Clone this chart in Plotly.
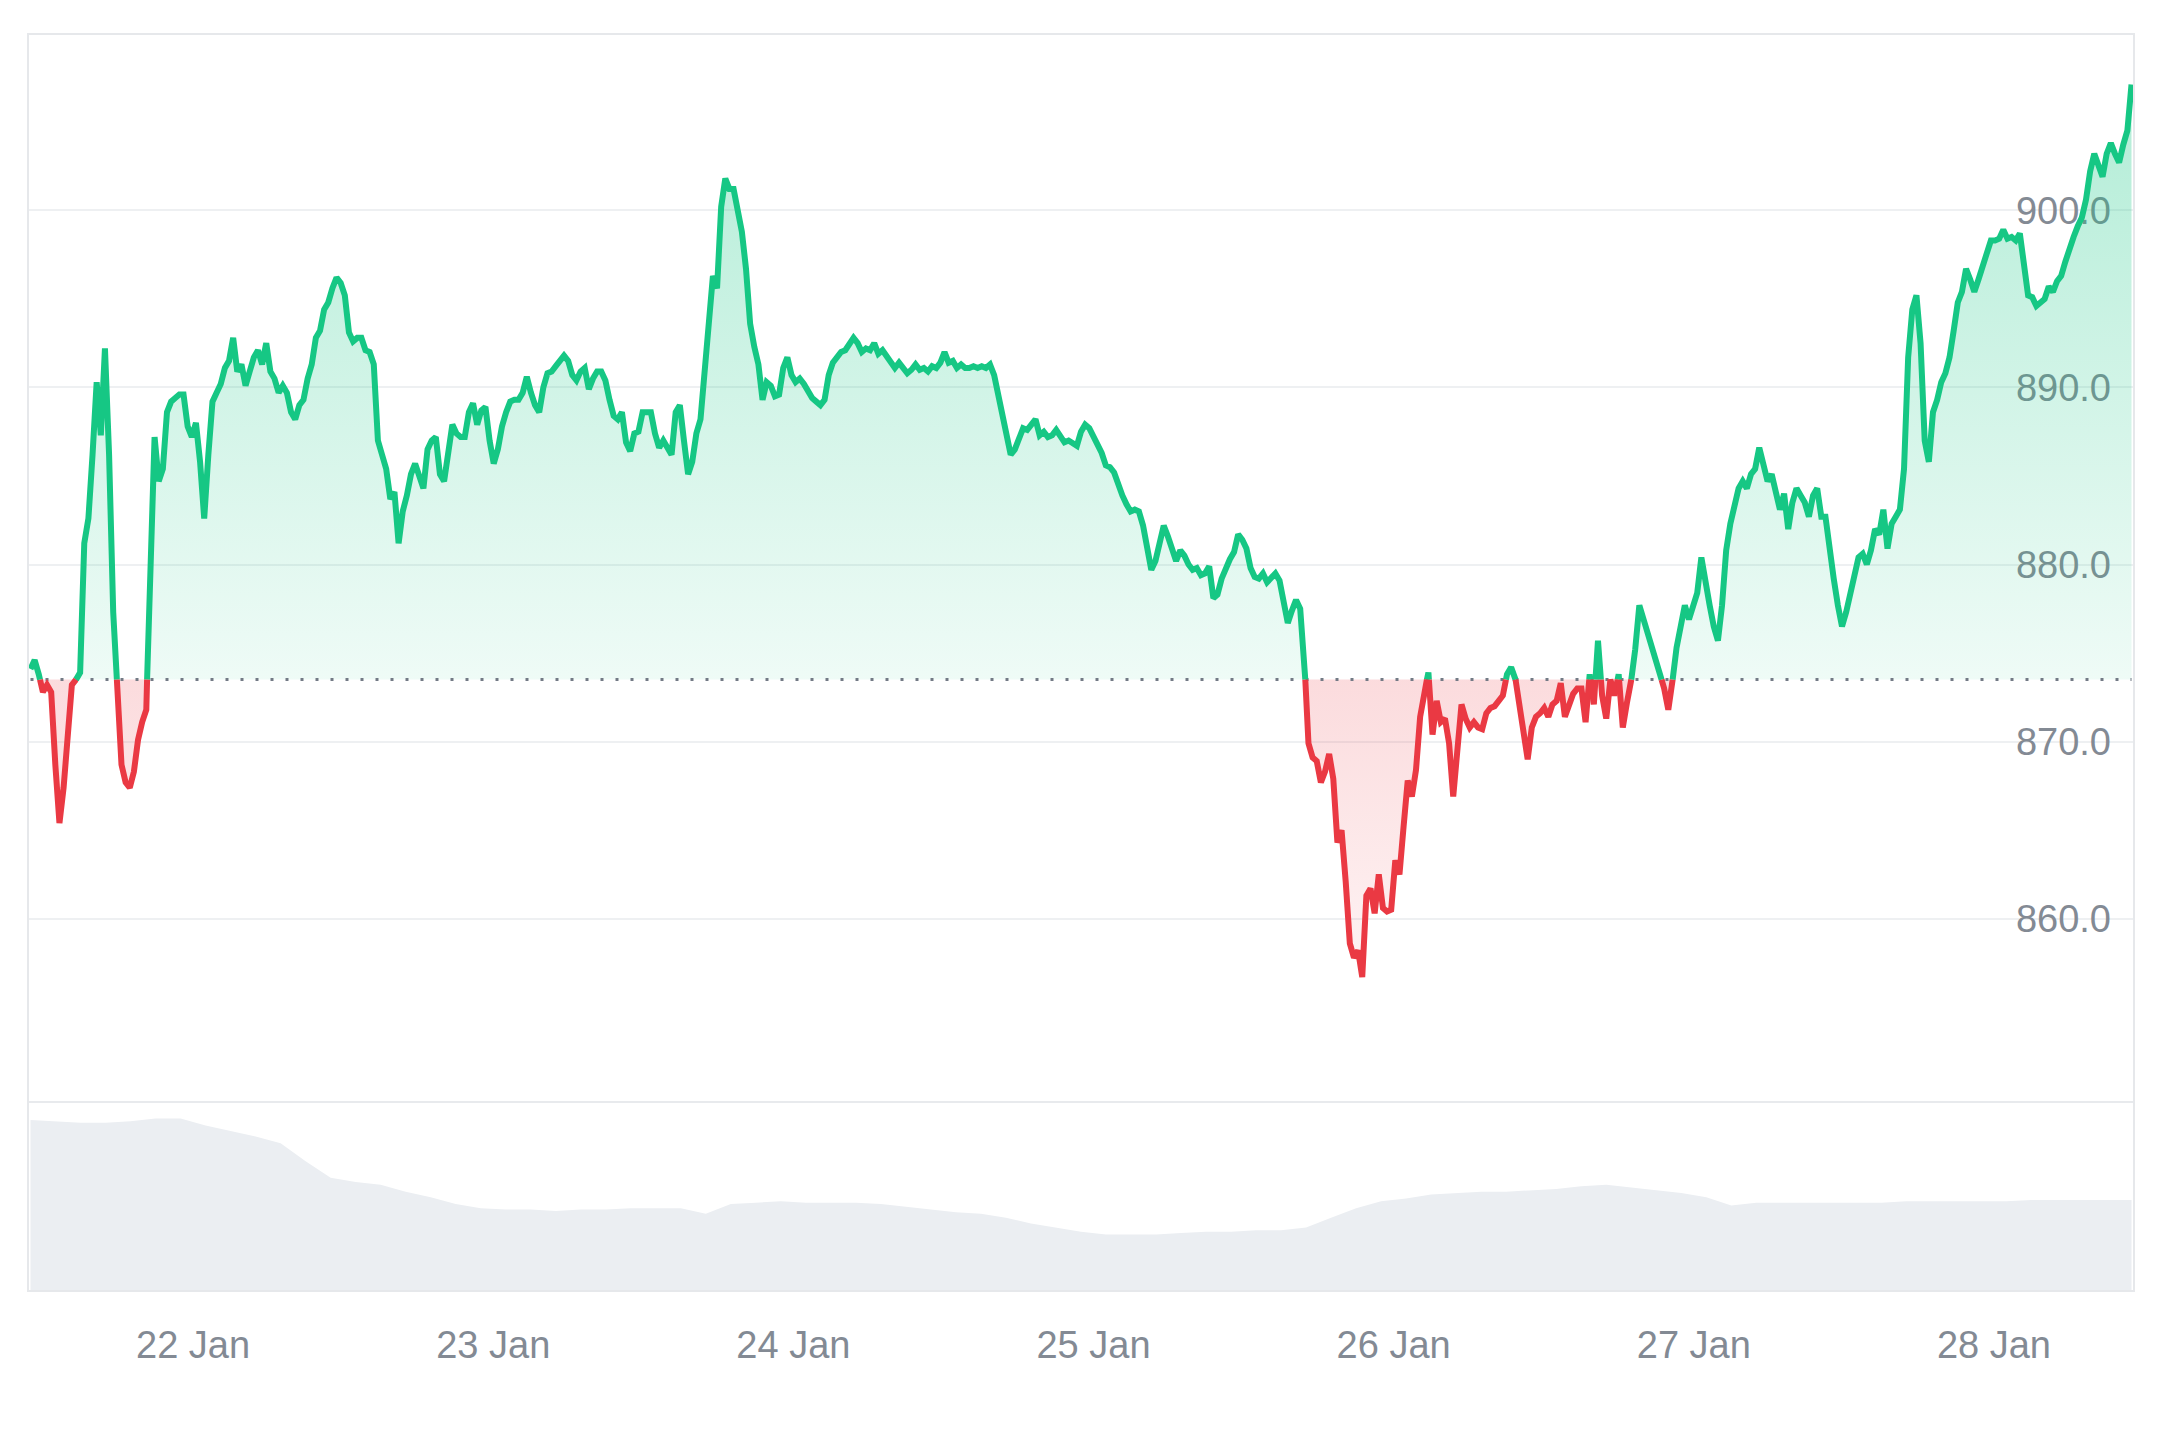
import pandas as pd
import plotly.graph_objects as go

# ---------------- data ----------------
START = "2025-01-21 11:00"
END = "2025-01-28 11:00"
BASELINE = 873.5

price_a = [874.1, 874.6, 873.8, 872.8, 873.2, 872.8, 868.7, 865.4, 867.4, 870.3,
           873.2, 873.5, 873.9, 881.2, 882.6, 886.2, 890.3, 887.3, 892.2, 886.2,
           877.3, 873.0, 868.7, 867.7, 867.4, 868.3, 870.1, 871.1, 871.8, 880.8,
           887.2, 884.7, 885.4, 888.6, 889.2, 889.4, 889.6, 889.6, 887.8, 887.2,
           888.0, 885.8, 882.6, 886.2, 889.2, 889.7, 890.2, 891.1, 891.5, 892.8]
price_b = [890.9, 891.3, 890.1, 890.9, 891.7, 892.1, 891.3, 892.5, 890.9, 890.5,
           889.7, 890.1, 889.7, 888.6, 888.2, 889.0, 889.3, 890.5, 891.3, 892.8,
           893.2, 894.4, 894.8, 895.6, 896.2, 895.9, 895.2, 893.1, 892.6, 892.8,
           892.8, 892.1, 892.0, 891.3, 887.0, 886.2, 885.4, 883.7, 884.1, 881.2,
           883.0, 883.9, 885.1, 885.7, 885.1, 884.3, 886.5, 887.0, 887.2, 885.1,
           884.7, 886.6, 887.9, 887.4, 887.2, 887.2, 888.6, 889.1, 887.9, 888.7,
           888.9, 887.0, 885.7, 886.5, 887.8, 888.6, 889.2, 889.3, 889.3, 889.7,
           890.6, 889.7, 889.0, 888.6, 890.0, 890.8, 890.9, 891.2, 891.5, 891.8,
           891.5, 890.7, 890.4, 890.9, 891.1, 889.9, 890.5, 890.9, 890.9, 890.4,
           889.3, 888.4, 888.2, 888.6, 886.9, 886.4, 887.4, 887.5, 888.6, 888.6,
           888.6, 887.4, 886.6, 887.0, 886.5, 886.2, 888.6, 889.0, 887.0, 885.1,
           885.8, 887.4, 888.2, 890.9, 893.2, 896.3]
price_c = [895.6, 900.2, 901.8]
price_d = [901.2, 901.2, 899.8, 898.8, 896.7, 893.6, 892.3, 891.3, 889.3, 890.3,
           890.1, 889.5, 889.6, 891.1, 891.7, 890.7, 890.3, 890.5, 890.2, 889.8,
           889.4, 889.2, 889.0, 889.3, 890.7, 891.4, 891.7, 892.0, 892.1, 892.4,
           892.8, 892.5, 892.0, 892.2, 892.1, 892.5, 891.9, 892.1, 891.8, 891.5,
           891.1, 891.4, 891.1, 890.8, 891.0, 891.3, 891.0, 891.1, 890.9, 891.2,
           891.1, 891.4, 892.0, 891.4, 891.5, 891.1, 891.3, 891.1, 891.1, 891.2,
           891.1, 891.2, 891.1, 891.3, 890.7, 889.6, 888.4, 887.4, 886.2, 886.5,
           887.2, 887.7, 887.6, 887.9, 888.2, 887.3, 887.5, 887.2, 887.3, 887.6,
           887.2, 886.9, 887.0, 886.8, 886.7, 887.5, 887.9, 887.7, 887.2, 886.8,
           886.3, 885.6, 885.5, 885.2, 884.5, 883.9, 883.4, 883.0, 883.1, 883.0,
           882.2, 881.0, 879.7, 880.2, 881.3, 882.2, 881.6, 880.9, 880.2, 880.8,
           880.5, 880.0, 879.7, 879.8, 879.4, 879.5, 879.9, 878.1, 878.3, 879.2,
           879.8, 880.3, 880.7, 881.7, 881.4, 880.9, 879.8, 879.3, 879.2, 879.5,
           879.0, 879.2, 879.5, 879.1, 877.9, 876.7, 877.4, 878.0, 877.5, 874.6]
price_e = [869.9, 869.1, 868.9, 867.7, 868.3, 869.3, 867.9, 864.3, 865.0, 862.1,
           858.6, 857.8, 858.2, 856.7, 861.3, 861.7, 860.3, 862.5, 860.6, 860.4,
           860.5, 863.3, 862.5, 865.2, 867.8, 866.9, 868.4, 871.4, 872.8, 873.9,
           870.4, 872.3, 871.1, 871.3, 869.9, 866.9, 869.5, 872.1, 871.3, 870.8,
           871.1, 870.8, 870.7, 871.6, 871.9, 872.0, 872.3, 872.6, 873.8, 874.2,
           873.6, 872.1, 870.8, 869.0, 870.8, 871.4, 871.6, 871.9, 871.4, 872.1,
           872.3, 873.3, 871.4, 872.2, 872.7, 873.0, 873.0, 871.1, 873.8, 872.1,
           875.7, 872.6, 871.3, 873.5, 872.6, 873.8, 870.8, 872.2, 873.4, 875.2]
price_f = [877.7, 876.9, 876.1, 875.3, 874.6, 873.8, 873.0, 871.8, 873.4, 875.3,
           876.5, 877.7, 876.9, 877.7, 878.4, 880.4, 878.8, 877.7, 876.5, 875.7,
           877.7, 880.8, 882.3, 883.5, 884.3, 884.7, 884.3, 885.1, 885.4, 886.6,
           885.8, 884.7, 885.1, 883.9, 883.1, 884.0, 882.0, 883.5, 884.3, 883.9,
           883.5, 882.7, 883.9, 884.3, 882.7, 882.7, 880.8, 879.2, 877.7, 876.5,
           877.3, 878.4, 879.6, 880.4, 880.6, 880.0, 880.8, 882.0, 881.7, 883.1,
           880.9, 882.3, 882.7, 883.1, 885.4, 891.7, 894.4, 895.2]
price_g = [892.5, 887.0, 885.8, 888.6, 889.3, 890.3, 890.8, 891.7, 893.2, 894.8,
           895.4, 896.7, 896.1, 895.4, 896.1, 896.9, 897.7, 898.3, 898.3, 898.4,
           898.9, 898.4, 898.5, 898.3, 898.7, 896.7, 895.2, 895.1, 894.6, 894.8,
           895.0, 895.7, 895.4, 896.0, 896.3, 897.1, 897.9, 898.5, 899.1, 899.6,
           900.6, 902.2, 903.2, 902.6, 901.9, 903.2, 903.8, 903.2, 902.7, 903.7,
           904.5, 907.1]

volume = [124, 123, 122, 122, 123, 125, 125, 120, 116, 112,
          107, 94, 82, 79, 77, 72, 68, 63, 60, 59,
          59, 58, 59, 59, 60, 60, 60, 56, 63, 64,
          65, 64, 64, 64, 63, 61, 59, 57, 56, 53,
          49, 46, 43, 41, 41, 41, 42, 43, 43, 44,
          44, 46, 53, 60, 65, 67, 70, 71, 72, 72,
          73, 74, 76, 77, 75, 73, 71, 68, 62, 64,
          64, 64, 64, 64, 64, 65, 65, 65, 65, 65,
          66, 66, 66, 66, 66]

tick_dates = ["2025-01-22", "2025-01-23", "2025-01-24", "2025-01-25",
              "2025-01-26", "2025-01-27", "2025-01-28"]
tick_labels = ["22 Jan", "23 Jan", "24 Jan", "25 Jan", "26 Jan", "27 Jan", "28 Jan"]
price_ticks = [860, 870, 880, 890, 900]

# ---------------- build ----------------
prices = price_a + price_b + price_c + price_d + price_e + price_f + price_g
times = pd.date_range(START, END, periods=len(prices))
vol_times = pd.date_range(START, END, periods=len(volume))

tn = times.asi8
xs, ys = [], []
for i, p in enumerate(prices):
    if i > 0:
        p0 = prices[i - 1]
        if (p0 - BASELINE) * (p - BASELINE) < 0:
            f = (BASELINE - p0) / (p - p0)
            tc = tn[i - 1] + f * (tn[i] - tn[i - 1])
            xs.append(pd.Timestamp(int(tc)))
            ys.append(BASELINE)
    xs.append(times[i])
    ys.append(p)

green_line = [y if y >= BASELINE else None for y in ys]
red_line = [y if y <= BASELINE else None for y in ys]
green_fill = [max(y, BASELINE) for y in ys]
red_fill = [min(y, BASELINE) for y in ys]
base_line = [BASELINE] * len(ys)

GREEN = "#16c784"
RED = "#ea3943"

fig = go.Figure()
# volume
fig.add_trace(go.Scatter(x=vol_times, y=volume, mode="lines", line=dict(width=0),
                         fill="tozeroy", fillcolor="#ebeef2", yaxis="y2",
                         hoverinfo="skip"))
# fills
fig.add_trace(go.Scatter(x=xs, y=base_line, mode="lines", line=dict(width=0),
                         hoverinfo="skip"))
fig.add_trace(go.Scatter(x=xs, y=green_fill, mode="lines", line=dict(width=0),
                         fill="tonexty",
                         fillgradient=dict(type="vertical",
                                           colorscale=[[0, "rgba(22,199,132,0.07)"],
                                                       [1, "rgba(22,199,132,0.33)"]]),
                         hoverinfo="skip"))
fig.add_trace(go.Scatter(x=xs, y=base_line, mode="lines", line=dict(width=0),
                         hoverinfo="skip"))
fig.add_trace(go.Scatter(x=xs, y=red_fill, mode="lines", line=dict(width=0),
                         fill="tonexty",
                         fillgradient=dict(type="vertical",
                                           colorscale=[[0, "rgba(234,57,67,0.06)"],
                                                       [1, "rgba(234,57,67,0.18)"]]),
                         hoverinfo="skip"))
# dotted baseline
fig.add_trace(go.Scatter(x=[times[0], times[-1]], y=[BASELINE, BASELINE], mode="lines",
                         line=dict(color="#737a85", width=3, dash="3px,12px"),
                         hoverinfo="skip"))
# price lines
fig.add_trace(go.Scatter(x=xs, y=green_line, mode="lines",
                         line=dict(color=GREEN, width=6), connectgaps=False))
fig.add_trace(go.Scatter(x=xs, y=red_line, mode="lines",
                         line=dict(color=RED, width=6), connectgaps=False))

pad = pd.Timedelta(minutes=12)
fig.update_layout(
    width=2144, height=1424,
    margin=dict(l=20, r=18, t=26, b=141),
    paper_bgcolor="white", plot_bgcolor="white",
    showlegend=False,
    font=dict(family="Liberation Sans, Arial, sans-serif", size=38, color="#838a94"),
    xaxis=dict(anchor="y2", range=[times[0] - pad, times[-1] + pad],
               tickvals=pd.to_datetime(tick_dates), ticktext=tick_labels,
               showgrid=False, zeroline=False, showline=False, ticks="",
               ticklabelstandoff=28,
               tickfont=dict(size=38, color="#838a94")),
    yaxis=dict(domain=[0.1504, 1], range=[849.65, 909.96], side="right",
               tickvals=price_ticks, tickformat=".1f",
               ticklabelposition="inside", ticklabelstandoff=20,
               showgrid=True, gridcolor="#eef0f2", gridwidth=2,
               zeroline=False, showline=False, ticks="", layer="below traces",
               tickfont=dict(size=38, color="#838a94")),
    yaxis2=dict(domain=[0, 0.1504], range=[0, 137], showgrid=False,
                showticklabels=False, zeroline=False, showline=False, ticks=""),
    shapes=[
        dict(type="line", xref="paper", yref="paper", x0=0, x1=1, y0=0.1504, y1=0.1504,
             line=dict(color="#e8eaed", width=2), layer="below"),
        dict(type="rect", xref="paper", yref="paper", x0=0, x1=1, y0=0, y1=1,
             line=dict(color="#e6e8eb", width=2), layer="above"),
    ],
)

fig.write_html("out.html")
